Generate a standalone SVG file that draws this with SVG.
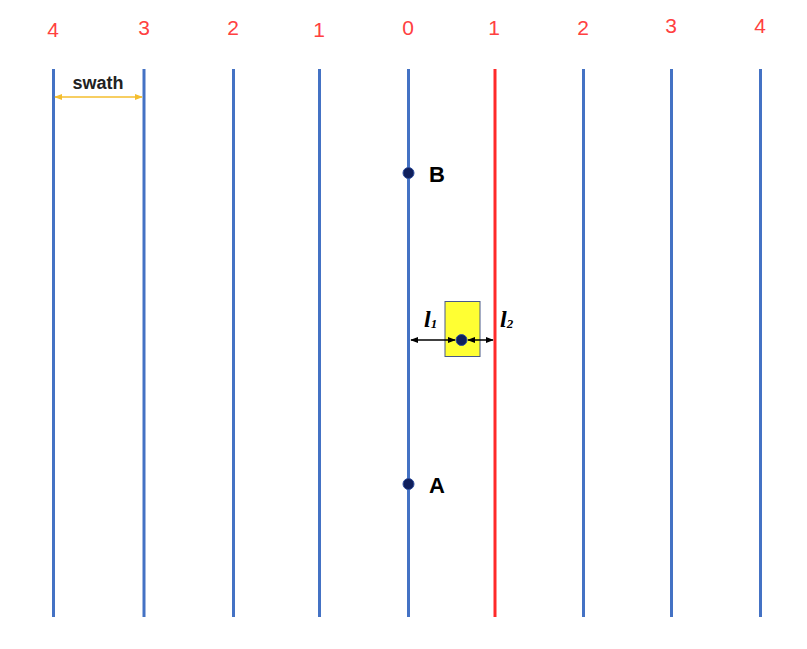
<svg xmlns="http://www.w3.org/2000/svg" width="807" height="649" viewBox="0 0 807 649">
<style>
.lane{stroke:#4472C4;stroke-width:3;fill:none}
.lane.red{stroke:#FF2A2A}
.num{font-family:"Liberation Sans",Arial,sans-serif;font-size:21px;fill:#FF4040;text-anchor:middle}
.lbl{font-family:"Liberation Sans",Arial,sans-serif;font-size:22px;font-weight:bold;fill:#000}
.pt{fill:#0F1F5C;stroke:#2F4F9F;stroke-width:1}
.ell{font-family:"Liberation Serif","Times New Roman",serif;font-size:24px;font-style:italic;font-weight:bold;fill:#000}
.dim{stroke:#000;stroke-width:1.5;fill:none}
</style>
<defs>
<marker id="ah" viewBox="0 0 10 10" refX="9" refY="5" markerWidth="8" markerHeight="8" orient="auto-start-reverse" markerUnits="userSpaceOnUse">
<path d="M0,1 L10,5 L0,9 z" fill="#000"/>
</marker>
<marker id="ahy" viewBox="0 0 10 10" refX="9" refY="5" markerWidth="8" markerHeight="8" orient="auto-start-reverse" markerUnits="userSpaceOnUse">
<path d="M0,1 L10,5 L0,9 z" fill="#F5BE2E"/>
</marker>
</defs>
<rect width="807" height="649" fill="#fff"/>
<g id="lanes">
<line class="lane" x1="53.5" y1="69" x2="53.5" y2="617"/>
<line class="lane" x1="144" y1="69" x2="144" y2="617"/>
<line class="lane" x1="233.5" y1="69" x2="233.5" y2="617"/>
<line class="lane" x1="319.5" y1="69" x2="319.5" y2="617"/>
<line class="lane" x1="408.5" y1="69" x2="408.5" y2="617"/>
<line class="lane red" x1="495" y1="69" x2="495" y2="617"/>
<line class="lane" x1="583.5" y1="69" x2="583.5" y2="617"/>
<line class="lane" x1="671.5" y1="69" x2="671.5" y2="617"/>
<line class="lane" x1="760.5" y1="69" x2="760.5" y2="617"/>
</g>
<g id="numbers">
<text class="num" x="53" y="37">4</text>
<text class="num" x="144" y="35">3</text>
<text class="num" x="233" y="35">2</text>
<text class="num" x="319" y="37">1</text>
<text class="num" x="408" y="35">0</text>
<text class="num" x="494" y="35">1</text>
<text class="num" x="583" y="35">2</text>
<text class="num" x="671" y="33">3</text>
<text class="num" x="760" y="33">4</text>
</g>
<g id="swath">
<line x1="55" y1="97" x2="142" y2="97" stroke="#F5BE2E" stroke-width="1.5" marker-start="url(#ahy)" marker-end="url(#ahy)"/>
<text x="98" y="89" text-anchor="middle" font-family="'Liberation Sans',Arial,sans-serif" font-size="18" font-weight="bold" fill="#222">swath</text>
</g>
<g id="nodeB">
<circle class="pt" cx="408.5" cy="173" r="5.5"/>
<text class="lbl" x="429" y="182">B</text>
</g>
<g id="nodeA">
<circle class="pt" cx="408.5" cy="484" r="5.5"/>
<text class="lbl" x="429" y="493">A</text>
</g>
<g id="vehicle">
<rect x="445" y="301.5" width="35" height="55" fill="#FFFF33" stroke="#4A5A8A" stroke-width="1"/>
<circle class="pt" cx="461.5" cy="340" r="5.5"/>
</g>
<g id="connectors">
<line class="dim" x1="411" y1="340" x2="455" y2="340" marker-start="url(#ah)" marker-end="url(#ah)"/>
<line class="dim" x1="468" y1="340" x2="493" y2="340" marker-start="url(#ah)" marker-end="url(#ah)"/>
</g>
<g id="labels">
<text class="ell" x="424" y="327">l<tspan font-size="13" dy="1">1</tspan></text>
<text class="ell" x="500" y="327">l<tspan font-size="13" dy="1">2</tspan></text>
</g>
</svg>
